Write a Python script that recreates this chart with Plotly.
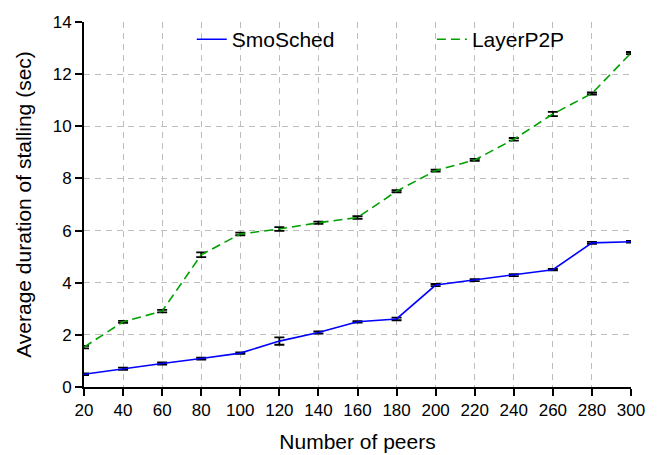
import plotly.graph_objects as go

peers = [20, 40, 60, 80, 100, 120, 140, 160, 180, 200, 220, 240, 260, 280, 300]
smosched = [0.49, 0.70, 0.90, 1.09, 1.30, 1.76, 2.09, 2.50, 2.61, 3.91, 4.10, 4.29, 4.50, 5.53, 5.57]
smosched_err = [0.03, 0.04, 0.04, 0.04, 0.03, 0.14, 0.04, 0.03, 0.05, 0.04, 0.04, 0.04, 0.03, 0.04, 0.03]
layerp2p = [1.53, 2.50, 2.91, 5.07, 5.87, 6.06, 6.30, 6.50, 7.51, 8.30, 8.71, 9.50, 10.47, 11.26, 12.81]
layerp2p_err = [0.05, 0.04, 0.05, 0.09, 0.05, 0.07, 0.04, 0.05, 0.04, 0.04, 0.04, 0.05, 0.08, 0.04, 0.04]

x_ticks = list(range(20, 301, 20))
y_ticks = list(range(0, 15, 2))

font = "Liberation Sans, Arial, Helvetica, sans-serif"

fig = go.Figure()
fig.add_trace(go.Scatter(
    x=peers, y=smosched, mode="lines", name="SmoSched", legend="legend",
    line=dict(color="#0000ff", width=1.6),
    error_y=dict(type="data", array=smosched_err, color="black", thickness=1.8, width=5),
))
fig.add_trace(go.Scatter(
    x=peers, y=layerp2p, mode="lines", name="LayerP2P", legend="legend2",
    line=dict(color="#00a000", width=1.6, dash="9px,5px"),
    error_y=dict(type="data", array=layerp2p_err, color="black", thickness=1.8, width=5),
))

grid = dict(showgrid=True, gridcolor="#bdbdbd", gridwidth=1.3, griddash="6px,5px")
leg = dict(orientation="h", yanchor="top", xanchor="left", y=1.008,
           bgcolor="rgba(0,0,0,0)", font=dict(size=21))

fig.update_layout(
    width=653, height=447,
    margin=dict(l=76, r=30, t=11, b=68),
    paper_bgcolor="white", plot_bgcolor="white",
    font=dict(family=font, size=17, color="black"),
    showlegend=True,
    legend=dict(x=0.197, **leg),
    legend2=dict(x=0.636, **leg),
    xaxis=dict(range=[20, 300], tickvals=x_ticks, ticktext=[str(v) for v in x_ticks],
               showline=True, linecolor="black", linewidth=2, ticks="outside",
               ticklen=7, tickwidth=1.5, tickcolor="black", zeroline=False,
               automargin=False,
               title=dict(text="Number of peers", font=dict(size=21), standoff=15),
               **grid),
    yaxis=dict(range=[0, 14], tickvals=y_ticks, ticktext=[str(v) for v in y_ticks],
               showline=True, linecolor="black", linewidth=2, ticks="outside",
               ticklen=7, tickwidth=1.5, tickcolor="black", zeroline=False,
               automargin=False,
               title=dict(text="Average duration of stalling (sec)", font=dict(size=21), standoff=15),
               **grid),
)

fig.write_html("out.html")
